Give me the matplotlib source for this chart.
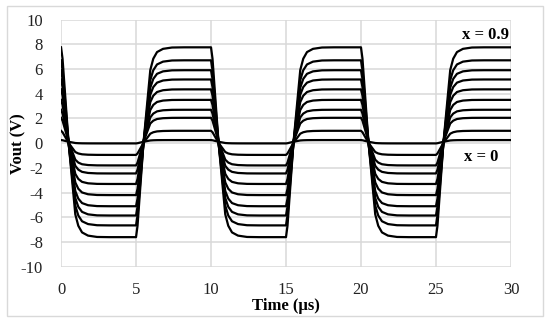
import numpy as np
import matplotlib
matplotlib.use("Agg")
import matplotlib.pyplot as plt
from matplotlib.patches import Rectangle

# plateau levels (V), x = 0 ... 0.9
x_values = [0.0, 0.1, 0.2, 0.3, 0.4, 0.5, 0.6, 0.7, 0.8, 0.9]
high_levels = [0.25, 1.0, 2.05, 2.7, 3.5, 4.35, 5.15, 5.9, 6.7, 7.75]
low_levels = [-0.02, -0.95, -1.8, -2.45, -3.3, -4.2, -5.1, -5.85, -6.65, -7.6]

# switching instants (us) and shape of one edge
edge_times = [0, 5, 10, 15, 20, 25]
edge_dt = [0.0, 0.1, 0.5, 0.95, 1.15, 1.4, 1.8, 2.4, 3.2]
edge_frac = [0.0, 0.06, 0.5, 0.88, 0.94, 0.975, 0.992, 0.999, 1.0]
t_end = 30

x_ticks = [0, 5, 10, 15, 20, 25, 30]
y_ticks = [-10, -8, -6, -4, -2, 0, 2, 4, 6, 8, 10]


def build_curve(high, low):
    t, v = [], []
    for k, te in enumerate(edge_times):
        start, end = (high, low) if k % 2 == 0 else (low, high)
        for dt, f in zip(edge_dt, edge_frac):
            t.append(te + dt)
            v.append(start + (end - start) * f)
    t.append(t_end)
    v.append(v[-1])
    return np.array(t), np.array(v)


def main():
    plt.rcParams['font.family'] = ['Liberation Serif', 'DejaVu Serif']
    plt.rcParams['axes.unicode_minus'] = False

    fig = plt.figure(figsize=(5.5, 3.25), dpi=100)
    ax = fig.add_axes([0.111, 0.179, 0.818, 0.761])

    for hi, lo in zip(high_levels, low_levels):
        t, v = build_curve(hi, lo)
        ax.plot(t, v, color='black', lw=1.6, solid_joinstyle='round')

    ax.set_xlim(0, 30)
    ax.set_ylim(-10, 10)
    ax.set_xticks(x_ticks)
    ax.set_yticks(y_ticks)
    ax.grid(True, color='#d9d9d9', lw=1.1)
    ax.set_axisbelow(True)
    for s in ax.spines.values():
        s.set_visible(False)
    ax.tick_params(length=0, labelsize=12, labelcolor='#222222')
    ax.tick_params(axis='y', pad=13)
    ax.tick_params(axis='x', pad=11)

    ax.set_xlabel("Time (µs)", fontsize=12, fontweight='bold')
    ax.xaxis.set_label_coords(0.5, -0.125)
    ax.set_ylabel("Vout (V)", fontsize=12, fontweight='bold')
    ax.yaxis.set_label_coords(-0.076, 0.5)

    ax.text(29.9, 8.4, "x = 0.9", ha='right', va='baseline',
            fontsize=12, fontweight='bold')
    ax.text(28.0, -1.42, "x = 0", ha='center', va='baseline',
            fontsize=12, fontweight='bold')

    fig.patches.append(Rectangle((0.0127, 0.028), 0.975, 0.954,
                                 transform=fig.transFigure, fill=False,
                                 edgecolor='#d9d9d9', lw=1.0))

    fig.savefig("out.png", dpi=100)


if __name__ == '__main__':
    main()
